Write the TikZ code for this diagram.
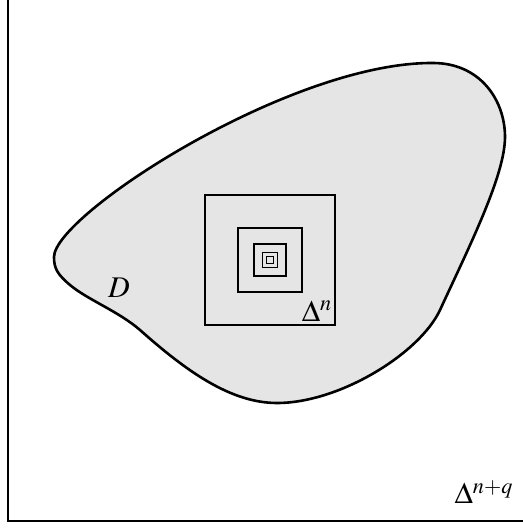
\documentclass[tikz,border=0pt]{standalone}
\usepackage{mathptmx}
\usetikzlibrary{positioning, calc}

\begin{document}
\begin{tikzpicture}[x=0.5pt, y=-0.5pt,
  region/.style={draw, line width=1.3pt, fill=black!10},
  cube/.style={draw, line width=0.65pt},
  lbl/.style={font=\fontsize{15}{18}\selectfont, inner sep=0pt}
]
  \useasboundingbox (0,0) rectangle (523,529);
  % ambient simplex
  \draw[line width=0.9pt] (8,0) -- (8,521) -- (523,521);
  % domain D
  \draw[region] (54,257) .. controls (54,215) and (290,62) .. (433,63)
    .. controls (480,63) and (505,100) .. (505,137)
    .. controls (505,175) and (470,245) .. (440,310)
    .. controls (420,353) and (340,403) .. (277,403)
    .. controls (230,403) and (185,370) .. (140,330)
    .. controls (118,311) and (88,300) .. (70,285)
    .. controls (57,274) and (54,268) .. cycle;
  % nested cubes
  \coordinate (c) at (270,260);
  \foreach \s in {65,32,16,7.5,3.2}
    \draw[cube] ($(c)+(-\s,-\s)$) rectangle ($(c)+(\s,\s)$);
  \node[lbl] (d) at (119,288) {$D$};
  \node[lbl] (dn) at (317,311) {$\Delta^{n}$};
  \node[lbl] (dnq) at (484,492) {$\Delta^{n+q}$};
\end{tikzpicture}
\end{document}
